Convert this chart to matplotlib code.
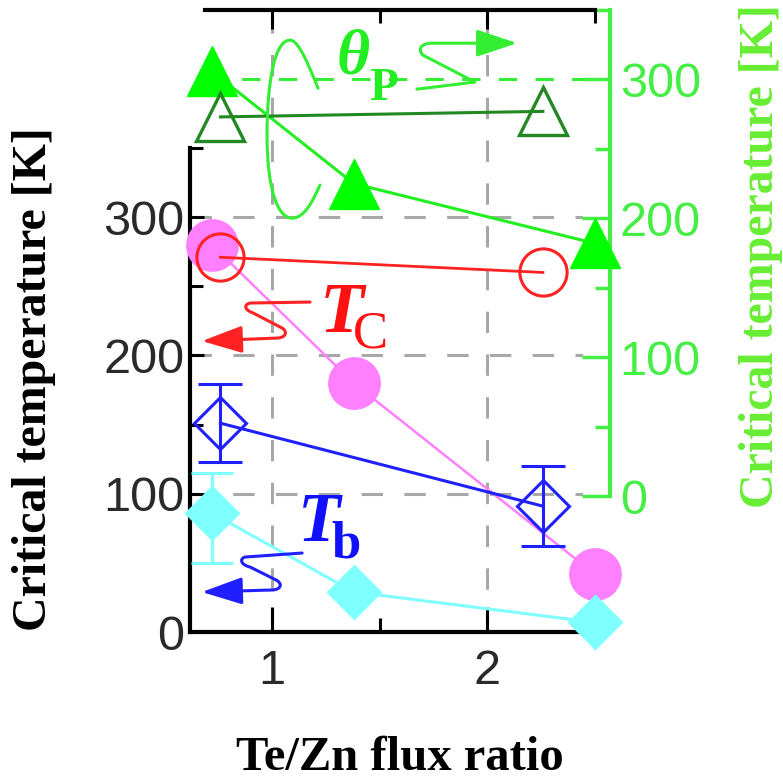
import matplotlib
matplotlib.use("Agg")
import matplotlib.pyplot as plt
from matplotlib.path import Path
from matplotlib.patches import FancyArrowPatch, ArrowStyle
from matplotlib.ticker import MultipleLocator, FixedFormatter, FixedLocator

# Te/Zn flux ratio of the samples
flux_main = [0.72, 1.38, 2.50]
flux_pair = [0.76, 2.26]

# Paramagnetic Curie temperature theta_P [K] (right axis)
theta_p_filled = [306, 225, 182]
theta_p_open = [273, 277]

# Critical temperatures [K] (left axis)
tc_open = [271, 260]
tc_filled = [280, 180, 42]
tb_open = [151, 91]
tb_open_err = [28, 29]
tb_filled = [86, 29, 7]
tb_first_err_lo = 36
tb_first_err_hi = 29

x_ticks = [1, 2]
x_tick_labels = ["1", "2"]
y_ticks = [0, 100, 200, 300]
y_tick_labels = ["0", "100", "200", "300"]

GREEN_AXIS = "#44ee44"
GREEN_LABEL = "#66ee33"
GRID = "#a8a8a8"
SERIF = "Liberation Serif"
SANS = "Liberation Sans"

W, H = 783, 782
fig = plt.figure(figsize=(W / 100, H / 100), dpi=100)

def box(x0, y0, x1, y1):
    return [x0 / W, 1 - y1 / H, (x1 - x0) / W, (y1 - y0) / H]

# pixel layout of the two frames; 215 px per flux-ratio unit, x=1 at px 272
PX_X1, PX_PER_X = 272, 215
def xl(p0, p1):
    return (1 + (p0 - PX_X1) / PX_PER_X, 1 + (p1 - PX_X1) / PX_PER_X)

ax1 = fig.add_axes(box(190, 148, 583, 632))
ax2 = fig.add_axes(box(205, 10, 610, 496))
ax2.patch.set_visible(False)

ax1.set_xlim(*xl(190, 583))
ax2.set_xlim(*xl(205, 610))
ax1.set_ylim(0, 350)
ax2.set_ylim(0, 350)

# ---- left / bottom frame -------------------------------------------------
for s in ("top", "right"):
    ax1.spines[s].set_visible(False)
for s in ("left", "bottom"):
    ax1.spines[s].set_linewidth(3)
    ax1.spines[s].set_color("black")

ax1.xaxis.set_major_locator(FixedLocator(x_ticks))
ax1.xaxis.set_major_formatter(FixedFormatter(x_tick_labels))
ax1.xaxis.set_minor_locator(MultipleLocator(0.5))
ax1.yaxis.set_major_locator(FixedLocator(y_ticks))
ax1.yaxis.set_major_formatter(FixedFormatter(y_tick_labels))
ax1.yaxis.set_minor_locator(MultipleLocator(50))
ax1.tick_params(axis="x", which="major", direction="in", length=18, width=2.2,
                pad=12, labelsize=35, colors="black")
ax1.tick_params(axis="x", which="minor", direction="in", length=10, width=2.2)
ax1.tick_params(axis="y", which="major", direction="in", length=10, width=2.2,
                pad=4, labelsize=35)
ax1.tick_params(axis="y", which="minor", direction="in", length=9, width=2.2)
for lab in ax1.get_xticklabels() + ax1.get_yticklabels():
    lab.set_fontfamily(SANS)
    lab.set_color("#2a2a2a")

ax1.set_axisbelow(True)
ax1.yaxis.grid(True, which="major", color=GRID, lw=2.2, ls=(0, (7, 7)))
ext = (632 - 10) / (632 - 148)
for xv in x_ticks:
    ax1.axvline(xv, 0, ext, color=GRID, lw=2.2, ls=(0, (7, 7)), clip_on=False, zorder=0.5)

# ---- upper right frame ---------------------------------------------------
for s in ("left", "bottom"):
    ax2.spines[s].set_visible(False)
ax2.spines["top"].set_color("black")
ax2.spines["top"].set_linewidth(3)
ax2.spines["top"].set_bounds(ax2.get_xlim()[0], 2.5)
ax2.spines["right"].set_color(GREEN_AXIS)
ax2.spines["right"].set_linewidth(3)

ax2.xaxis.tick_top()
ax2.xaxis.set_major_locator(FixedLocator(x_ticks))
ax2.xaxis.set_minor_locator(FixedLocator([1.5, 2.5]))
ax2.tick_params(axis="x", which="both", direction="in", labeltop=False,
                labelbottom=False, width=2.2, color="black")
ax2.tick_params(axis="x", which="major", length=14)
ax2.tick_params(axis="x", which="minor", length=9)

ax2.yaxis.tick_right()
ax2.yaxis.set_major_locator(FixedLocator(y_ticks))
ax2.yaxis.set_major_formatter(FixedFormatter(y_tick_labels))
ax2.yaxis.set_minor_locator(MultipleLocator(50))
ax2.tick_params(axis="y", which="major", direction="in", length=20, width=2.5,
                pad=7, labelsize=35, colors=GREEN_AXIS)
ax2.tick_params(axis="y", which="minor", direction="in", length=11, width=2.5,
                colors=GREEN_AXIS)
for lab in ax2.get_yticklabels():
    lab.set_fontfamily(SANS)
ax2.axhline(300, color="#33ee33", lw=2.2, ls=(0, (6, 6)), zorder=0.8)

# ---- data on the left axis ----------------------------------------------
ax1.plot(flux_main, tc_filled, "-o", color="#ff80ff", lw=1.8, ms=38, mec="none",
         clip_on=False, zorder=3)
ax1.plot(flux_pair, tc_open, "-o", color="#ff2222", lw=2.0, ms=34, mfc="none",
         mew=2.2, clip_on=False, zorder=4)
ax1.errorbar(flux_pair, tb_open, yerr=tb_open_err, fmt="-D", color="#2020ff", lw=2.2,
             ms=26, mfc="none", mew=2.2, capsize=16, capthick=2.2, elinewidth=2.2,
             clip_on=False, zorder=5)
ax1.plot(flux_main, tb_filled, "-D", color="#80ffff", lw=2.2, ms=29, mec="none",
         clip_on=False, zorder=6)
ax1.errorbar(flux_main[:1], tb_filled[:1], yerr=[[tb_first_err_lo], [tb_first_err_hi]],
             fmt="none", ecolor="#80ffff", elinewidth=2.2, capsize=15, capthick=2.2,
             clip_on=False, zorder=5.5)

# ---- data on the right axis ---------------------------------------------
ax2.plot(flux_main, theta_p_filled, "-^", color="#22ee22", mfc="#00ff00", mec="#00ff00",
         lw=2.2, ms=36, clip_on=False, zorder=4)
ax2.plot(flux_pair, theta_p_open, "-^", color="#228822", lw=2.2, ms=34, mfc="none",
         mew=2.4, clip_on=False, zorder=5)

# ---- series labels and pointers -----------------------------------------
ax2.text(1.30, 304, "\u03b8", color="#22ee22", fontfamily=SERIF, fontweight="bold",
         fontstyle="italic", fontsize=46, ha="left", va="baseline")
ax2.text(1.45, 285, "P", color="#22ee22", fontfamily=SERIF, fontweight="bold",
         fontsize=34, ha="left", va="baseline")
ax1.text(1.22, 217, "T", color="#ff1111", fontfamily=SERIF, fontweight="bold",
         fontstyle="italic", fontsize=52, ha="left", va="baseline")
ax1.text(1.375, 206, "C", color="#ff1111", fontfamily=SERIF, fontsize=38,
         ha="left", va="baseline")
ax1.text(1.12, 66, "T", color="#1010ff", fontfamily=SERIF, fontweight="bold",
         fontstyle="italic", fontsize=50, ha="left", va="baseline")
ax1.text(1.275, 54, "b", color="#1010ff", fontfamily=SERIF, fontweight="bold",
         fontsize=38, ha="left", va="baseline")

C4, L2, M = Path.CURVE4, Path.LINETO, Path.MOVETO

loop = Path([(1.214, 293.7), (1.153, 317.5), (1.116, 328.3), (1.084, 328.3),
             (1.014, 328.3), (0.977, 299.5), (0.977, 259.9),
             (0.977, 220.3), (1.028, 200.1), (1.093, 200.1),
             (1.153, 200.1), (1.191, 213.1), (1.223, 223.9)],
            [M, C4, C4, C4, C4, C4, C4, C4, C4, C4, C4, C4, C4])
ax2.add_patch(FancyArrowPatch(path=loop, arrowstyle="-", color="#33ee33", lw=2.2,
                              transform=ax2.transData, clip_on=False, zorder=6))

head = ArrowStyle("-|>", head_length=1.25, head_width=0.42)

s_theta = Path([(1.674, 293.0), (1.944, 298.1), (1.702, 317.5),
                (1.679, 321.1), (1.688, 326.1), (1.744, 326.1), (2.140, 326.1)],
               [M, L2, L2, C4, C4, C4, L2])
ax2.add_patch(FancyArrowPatch(path=s_theta, arrowstyle=head, mutation_scale=20,
                              color="#33ee33", lw=2.2, transform=ax2.transData,
                              clip_on=False, zorder=6))

s_tc = Path([(1.177, 238.6), (0.898, 237.9), (0.865, 236.4), (0.874, 232.8),
             (0.912, 230.7), (1.047, 219.8), (1.070, 217.6), (1.070, 213.3),
             (1.028, 212.6), (0.674, 210.4)],
            [M, L2, C4, C4, C4, L2, C4, C4, C4, L2])
ax1.add_patch(FancyArrowPatch(path=s_tc, arrowstyle=head, mutation_scale=20,
                              color="#ff2222", lw=2.2, transform=ax1.transData,
                              clip_on=False, zorder=7))

s_tb = Path([(1.140, 57.1), (0.874, 54.2), (0.847, 52.8), (0.856, 48.4),
             (0.898, 47.0), (1.019, 37.6), (1.047, 35.4), (1.047, 31.1),
             (1.005, 30.4), (0.674, 28.9)],
            [M, L2, C4, C4, C4, L2, C4, C4, C4, L2])
ax1.add_patch(FancyArrowPatch(path=s_tb, arrowstyle=head, mutation_scale=20,
                              color="#2020ff", lw=2.2, transform=ax1.transData,
                              clip_on=False, zorder=7))

# ---- axis titles ---------------------------------------------------------
fig.text(34 / W, 1 - 379 / H, "Critical temperature [K]", rotation=90, ha="center",
         va="center", fontfamily=SERIF, fontweight="bold", fontsize=34.5, color="black")
fig.text(761 / W, 1 - 256 / H, "Critical temperature [K]", rotation=90, ha="center",
         va="center", fontfamily=SERIF, fontweight="bold", fontsize=34.5, color=GREEN_LABEL)
fig.text(400 / W, 1 - 770 / H, "Te/Zn flux ratio", ha="center", va="baseline",
         fontfamily=SERIF, fontweight="bold", fontsize=35, color="black")

fig.savefig("out.png", dpi=100)
